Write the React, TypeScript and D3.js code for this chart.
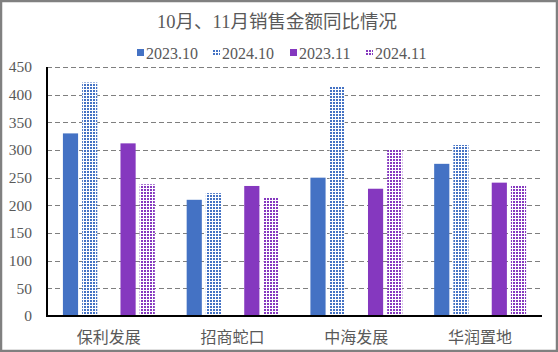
import React, { useRef, useEffect } from "react";
import * as d3 from "d3";

const companies = ["保利发展", "招商蛇口", "中海发展", "华润置地"];
const seriesNames = ["2023.10", "2024.10", "2023.11", "2024.11"];
const sales2023Oct = [330, 210, 250, 275];
const sales2024Oct = [422, 222, 415, 309];
const sales2023Nov = [312, 235, 230, 241];
const sales2024Nov = [238, 215, 300, 235];
const yTicks = [0, 50, 100, 150, 200, 250, 300, 350, 400, 450];

const blue = "#4472C4";
const purple = "#8538BF";
const serif = "'Liberation Serif', 'Noto Sans CJK SC', serif";

const App = () => {
  const svgRef = useRef(null);

  useEffect(() => {
    const width = 558;
    const height = 352;
    const margin = { top: 67, right: 16, bottom: 36, left: 47 };

    const svg = d3.select(svgRef.current);
    svg.selectAll("*").remove();
    svg.attr("width", width).attr("height", height);

    // patterns for the 2024 series
    const defs = svg.append("defs");
    const makePattern = (id, color) => {
      const p = defs
        .append("pattern")
        .attr("id", id)
        .attr("patternUnits", "userSpaceOnUse")
        .attr("width", 3)
        .attr("height", 3);
      p.append("rect").attr("width", 3).attr("height", 3).attr("fill", "#fff");
      p.append("rect").attr("width", 2).attr("height", 2).attr("fill", color);
    };
    makePattern("pBlue", blue);
    makePattern("pPurple", purple);

    svg.append("rect").attr("width", width).attr("height", height).attr("fill", "#fff");
    svg
      .append("rect")
      .attr("x", 1)
      .attr("y", 1)
      .attr("width", width - 2)
      .attr("height", height - 2)
      .attr("fill", "none")
      .attr("stroke", "#808080")
      .attr("stroke-width", 2.5);

    const x0 = d3
      .scaleBand()
      .domain(companies)
      .range([margin.left, width - margin.right])
      .padding(0);

    // five slots per company, middle one left empty
    const slots = ["2023.10", "2024.10", "gap", "2023.11", "2024.11"];
    const x1 = d3
      .scaleBand()
      .domain(slots)
      .range([14, x0.bandwidth() - 14])
      .paddingInner(0.21)
      .paddingOuter(0.1);

    const y = d3
      .scaleLinear()
      .domain([0, 450])
      .range([height - margin.bottom, margin.top]);

    // gridlines
    svg
      .append("g")
      .selectAll("line")
      .data(yTicks.filter((t) => t > 0))
      .enter()
      .append("line")
      .attr("x1", margin.left)
      .attr("x2", width - margin.right)
      .attr("y1", (d) => Math.round(y(d)) + 0.5)
      .attr("y2", (d) => Math.round(y(d)) + 0.5)
      .attr("stroke", "#7f7f7f")
      .attr("stroke-width", 1)
      .attr("stroke-dasharray", "5,3");

    // tick labels
    svg
      .append("g")
      .selectAll("text")
      .data(yTicks)
      .enter()
      .append("text")
      .attr("x", 32)
      .attr("y", (d) => y(d))
      .attr("dy", "0.35em")
      .attr("text-anchor", "end")
      .attr("font-family", serif)
      .attr("font-size", 15.5)
      .attr("fill", "#595959")
      .text((d) => d);

    const series = [
      { name: seriesNames[0], values: sales2023Oct, fill: blue },
      { name: seriesNames[1], values: sales2024Oct, fill: "url(#pBlue)" },
      { name: seriesNames[2], values: sales2023Nov, fill: purple },
      { name: seriesNames[3], values: sales2024Nov, fill: "url(#pPurple)" },
    ];

    const bars = [];
    series.forEach((s) => {
      s.values.forEach((v, i) => bars.push({ company: companies[i], name: s.name, value: v, fill: s.fill }));
    });

    svg
      .append("g")
      .selectAll("rect")
      .data(bars)
      .enter()
      .append("rect")
      .attr("x", (d) => x0(d.company) + x1(d.name))
      .attr("y", (d) => y(d.value))
      .attr("width", x1.bandwidth())
      .attr("height", (d) => y(0) - y(d.value))
      .attr("fill", (d) => d.fill);

    // axes
    svg
      .append("line")
      .attr("x1", margin.left)
      .attr("x2", margin.left)
      .attr("y1", margin.top)
      .attr("y2", y(0) + 1)
      .attr("stroke", "#000")
      .attr("stroke-width", 2);
    svg
      .append("line")
      .attr("x1", margin.left - 1)
      .attr("x2", width - margin.right)
      .attr("y1", y(0))
      .attr("y2", y(0))
      .attr("stroke", "#000")
      .attr("stroke-width", 2);

    // category labels
    svg
      .append("g")
      .selectAll("text")
      .data(companies)
      .enter()
      .append("text")
      .attr("x", (d) => x0(d) + x0.bandwidth() / 2)
      .attr("y", 337)
      .attr("dy", "0.35em")
      .attr("text-anchor", "middle")
      .attr("font-family", serif)
      .attr("font-size", 16)
      .attr("fill", "#595959")
      .text((d) => d);

    // title
    svg
      .append("text")
      .attr("x", 277)
      .attr("y", 22)
      .attr("dy", "0.35em")
      .attr("text-anchor", "middle")
      .attr("font-family", serif)
      .attr("font-size", 18.5)
      .attr("fill", "#595959")
      .text("10月、11月销售金额同比情况");

    // legend
    const legendX = [137, 213, 290, 366];
    const legend = svg
      .append("g")
      .selectAll("g")
      .data(series)
      .enter()
      .append("g")
      .attr("transform", (d, i) => `translate(${legendX[i]}, 53)`);
    legend
      .append("rect")
      .attr("x", 0)
      .attr("y", -4)
      .attr("width", 7)
      .attr("height", 7)
      .attr("fill", (d) => d.fill);
    legend
      .append("text")
      .attr("x", 9)
      .attr("y", 0)
      .attr("dy", "0.35em")
      .attr("font-family", serif)
      .attr("font-size", 16)
      .attr("fill", "#595959")
      .text((d) => d.name);
  }, []);

  return (
    <div style={{ position: "absolute", left: 0, top: 0 }}>
      <svg ref={svgRef} style={{ display: "block" }}></svg>
    </div>
  );
};

export default App;
